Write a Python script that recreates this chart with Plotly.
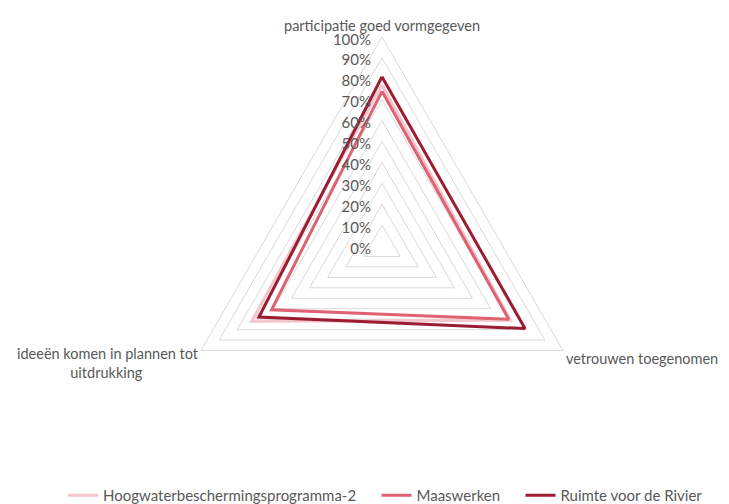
import plotly.graph_objects as go

categories = ["participatie goed vormgegeven", "vetrouwen toegenomen", "ideeën komen in plannen tot uitdrukking"]
category_labels = ["participatie goed vormgegeven", "vetrouwen toegenomen",
                   "ideeën komen in plannen tot<br>uitdrukking" + "\u00a0" * 15]
series_names = ["Hoogwaterbeschermingsprogramma-2", "Maaswerken", "Ruimte voor de Rivier"]
hoogwater = [0.77, 0.71, 0.72]
maaswerken = [0.74, 0.70, 0.61]
ruimte = [0.81, 0.79, 0.68]
colors = ["#F4C5CD", "#DE6272", "#9C1C32"]

pad = "\u00a0" * 4
fig = go.Figure()
for i, (name, vals, col) in enumerate(zip(series_names, [hoogwater, maaswerken, ruimte], colors)):
    fig.add_trace(go.Scatterpolar(
        r=vals + vals[:1],
        theta=categories + categories[:1],
        mode="lines",
        name=name + (pad if i < 2 else ""),
        line=dict(color=col, width=3),
    ))

cx, cy, R = 374, 238, 209
W, H = 729, 504
fig.update_layout(
    width=W, height=H,
    margin=dict(l=0, r=0, t=0, b=0, autoexpand=False),
    paper_bgcolor="white",
    plot_bgcolor="white",
    font=dict(family="Lato, Open Sans, sans-serif", size=15, color="#595959"),
    polar=dict(
        domain=dict(x=[(cx - R) / W, (cx + R) / W], y=[1 - (cy + R) / H, 1 - (cy - R) / H]),
        gridshape="linear",
        bgcolor="white",
        radialaxis=dict(
            range=[0, 1], dtick=0.1, tickformat=".0%", angle=90,
            showline=False, ticks="", gridcolor="#D9D9D9", gridwidth=1,
            tickfont=dict(size=15, color="#595959"), side="counterclockwise",
        ),
        angularaxis=dict(
            rotation=90, direction="clockwise",
            tickvals=categories, ticktext=category_labels,
            showgrid=False, showline=True, linecolor="#D9D9D9", linewidth=1,
            ticks="", tickfont=dict(size=14.5, color="#595959"),
        ),
    ),
    legend=dict(
        orientation="h", x=55 / W, xanchor="left", y=0.0, yanchor="bottom",
        font=dict(size=15, color="#595959"), itemwidth=30,
    ),
)
fig.write_html("out.html")
